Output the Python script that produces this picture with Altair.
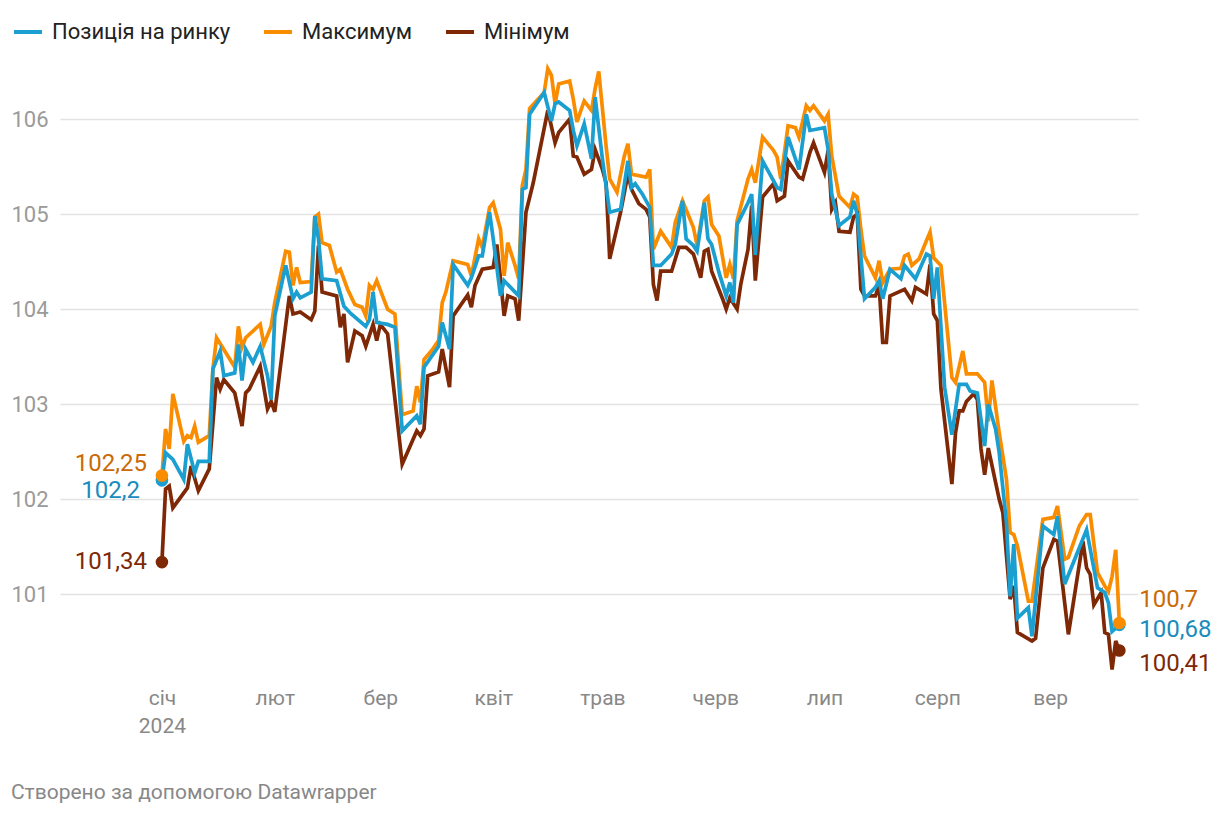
import json
import altair as alt
import pandas as pd

# ---------------- data ----------------
months = ["січ", "лют", "бер", "квіт", "трав", "черв", "лип", "серп", "вер"]
year_label = "2024"
series_names = ["Позиція на ринку", "Максимум", "Мінімум"]
series_colors = ["#1a9fd0", "#fa8c00", "#7e2806"]
label_colors = ["#1a8bbd", "#c96a06", "#7e2806"]
y_ticks = [101, 102, 103, 104, 105, 106]
footer = "Створено за допомогою Datawrapper"

# (days since 2024-01-01, value)
pos_points = [(0,102.20),(1,102.49),(3,102.42),(6,102.21),(7,102.58),(9,102.28),(10,102.40),(13,102.40),(14,103.37),(16,103.56),(17,103.30),(20,103.33),(21,103.63),(22,103.25),(23,103.58),(25,103.44),(27,103.61),(29,103.30),(30,103.05),(31,103.93),(34,104.46),(36,104.11),(37,104.18),(38,104.12),(41,104.18),(42,104.98),(43,104.74),(44,104.32),(48,104.30),(50,104.03),(52,103.95),(56,103.82),(57,103.89),(58,104.18),(59,103.86),(62,103.84),(64,103.81),(66,102.72),(70,102.88),(71,102.79),(72,103.39),(76,103.61),(77,103.86),(79,103.58),(80,104.47),(84,104.25),(85,104.33),(87,104.56),(88,104.56),(90,105.02),(91,104.74),(93,104.14),(94,104.30),(98,104.14),(99,105.26),(100,105.28),(101,106.05),(105,106.28),(107,105.98),(108,106.16),(109,106.18),(112,106.09),(113,105.88),(114,105.72),(116,105.95),(118,105.58),(119,106.23),(121,105.58),(123,105.02),(126,105.05),(128,105.56),(129,105.28),(130,105.32),(132,105.21),(134,105.07),(135,104.46),(137,104.46),(140,104.58),(141,104.68),(143,105.14),(144,104.74),(146,104.67),(147,104.61),(149,105.12),(150,104.74),(151,104.68),(153,104.39),(155,104.14),(156,104.28),(157,104.07),(158,104.89),(161,105.12),(162,105.21),(163,104.57),(165,105.56),(167,105.42),(169,105.28),(170,105.26),(172,105.81),(175,105.47),(177,106.05),(178,105.88),(182,105.91),(183,105.68),(184,105.21),(186,104.88),(189,104.97),(190,105.14),(191,105.00),(193,104.11),(196,104.23),(197,104.30),(198,104.11),(200,104.42),(203,104.32),(204,104.46),(207,104.32),(210,104.58),(211,104.56),(212,104.11),(213,104.44),(215,103.18),(217,102.68),(219,103.21),(221,103.21),(222,103.14),(224,103.12),(226,102.56),(227,103.00),(229,102.74),(230,102.49),(232,101.75),(233,100.98),(234,101.53),(235,100.75),(238,100.86),(239,100.56),(242,101.72),(245,101.63),(246,101.82),(248,101.11),(254,101.68),(257,101.07),(259,101.02),(260,100.91),(261,100.61),(263,100.68)]

max_points = [(0,102.25),(1,102.74),(2,102.53),(3,103.11),(6,102.61),(7,102.67),(8,102.65),(9,102.77),(10,102.60),(13,102.67),(14,103.37),(15,103.70),(20,103.39),(21,103.82),(22,103.60),(23,103.70),(27,103.84),(28,103.63),(30,103.82),(31,104.07),(34,104.61),(35,104.60),(36,104.25),(37,104.44),(38,104.28),(41,104.29),(42,104.97),(43,105.00),(44,104.70),(46,104.67),(48,104.39),(49,104.42),(51,104.21),(53,104.05),(55,104.02),(56,103.93),(57,104.25),(58,104.21),(59,104.30),(62,104.00),(64,103.95),(66,102.89),(69,102.93),(70,103.19),(71,103.02),(72,103.47),(74,103.56),(76,103.67),(77,104.07),(78,104.18),(80,104.51),(84,104.47),(85,104.35),(87,104.74),(88,104.65),(90,105.07),(91,105.12),(93,104.84),(94,104.35),(95,104.70),(97,104.46),(98,104.32),(99,105.30),(100,105.47),(101,106.11),(105,106.28),(106,106.53),(107,106.46),(108,106.16),(109,106.37),(112,106.40),(113,106.21),(114,105.97),(116,106.19),(118,106.09),(119,106.32),(120,106.50),(122,105.72),(123,105.37),(125,105.23),(127,105.61),(128,105.74),(129,105.42),(133,105.39),(134,105.47),(135,104.63),(137,104.82),(140,104.65),(141,104.91),(143,105.14),(146,104.86),(147,104.67),(149,105.14),(150,105.18),(151,104.89),(153,104.77),(155,104.33),(156,104.47),(157,104.32),(158,104.93),(161,105.37),(162,105.47),(163,105.33),(165,105.81),(168,105.67),(169,105.60),(170,105.37),(172,105.93),(174,105.91),(175,105.81),(177,106.14),(178,106.09),(179,106.14),(182,105.98),(183,106.05),(184,105.61),(186,105.19),(189,105.07),(190,105.21),(191,105.18),(192,104.84),(193,104.56),(196,104.33),(197,104.51),(198,104.28),(200,104.42),(203,104.43),(204,104.56),(205,104.58),(206,104.46),(208,104.53),(210,104.72),(211,104.81),(212,104.54),(214,104.46),(217,103.28),(218,103.23),(220,103.56),(221,103.32),(224,103.32),(226,103.23),(227,102.82),(228,103.25),(230,102.70),(232,102.21),(233,101.65),(234,101.63),(235,101.51),(238,100.93),(239,100.93),(242,101.79),(245,101.81),(246,101.93),(248,101.37),(249,101.39),(252,101.72),(254,101.84),(255,101.84),(257,101.23),(259,101.09),(260,101.03),(261,101.19),(262,101.47),(263,100.70)]

min_points = [(0,101.34),(1,102.11),(2,102.14),(3,101.91),(7,102.12),(8,102.35),(10,102.09),(13,102.32),(15,103.28),(16,103.16),(17,103.26),(20,103.12),(22,102.77),(23,103.12),(24,103.16),(27,103.40),(29,102.95),(30,103.03),(31,102.92),(35,104.14),(36,103.95),(38,103.97),(41,103.89),(42,103.98),(43,104.67),(44,104.18),(48,104.14),(49,103.81),(50,103.95),(51,103.44),(53,103.77),(55,103.72),(56,103.61),(58,103.84),(59,103.67),(60,103.84),(62,103.74),(66,102.37),(70,102.72),(71,102.67),(72,102.74),(73,103.30),(76,103.34),(77,103.58),(79,103.18),(80,103.93),(84,104.15),(85,104.02),(86,104.25),(88,104.42),(91,104.44),(92,104.68),(93,104.32),(94,103.93),(95,104.14),(97,104.11),(98,103.88),(100,105.02),(102,105.33),(106,106.09),(108,105.75),(109,105.86),(112,106.00),(113,105.61),(114,105.60),(116,105.42),(118,105.47),(119,105.68),(121,105.47),(122,105.33),(123,104.53),(126,105.02),(128,105.42),(129,105.26),(131,105.11),(133,105.05),(134,104.97),(135,104.26),(136,104.09),(137,104.40),(140,104.40),(142,104.65),(144,104.65),(146,104.58),(148,104.33),(149,104.61),(150,104.63),(151,104.40),(154,104.11),(155,104.00),(156,104.12),(158,104.00),(159,104.26),(161,104.63),(162,105.09),(163,104.30),(165,105.18),(168,105.32),(169,105.14),(171,105.19),(172,105.56),(175,105.39),(176,105.37),(178,105.65),(179,105.75),(182,105.44),(183,105.67),(184,105.05),(185,105.12),(186,104.82),(189,104.81),(190,104.97),(191,105.00),(192,104.21),(193,104.14),(196,104.14),(197,104.25),(198,103.65),(199,103.65),(200,104.14),(204,104.21),(206,104.09),(207,104.23),(210,104.16),(211,104.47),(212,103.95),(213,103.88),(214,103.16),(217,102.16),(218,102.70),(219,102.93),(220,102.93),(221,103.03),(223,103.11),(224,103.05),(225,102.53),(226,102.26),(227,102.54),(230,102.00),(231,101.86),(233,100.95),(234,101.09),(235,100.60),(239,100.51),(240,100.54),(242,101.28),(245,101.58),(246,101.56),(249,100.58),(253,101.56),(254,101.28),(255,101.21),(256,100.89),(258,101.02),(259,100.60),(260,100.58),(261,100.21),(262,100.51),(263,100.41)]

start_labels = ["102,2", "102,25", "101,34"]
end_labels = ["100,68", "100,7", "100,41"]

# ---------------- build tables ----------------
base = pd.Timestamp("2024-01-01")
FMT = "%Y-%m-%dT%H:%M:%S"


def to_df(points, name):
    return pd.DataFrame({
        "date": [(base + pd.Timedelta(days=d)).strftime(FMT) for d, _ in points],
        "value": [v for _, v in points],
        "series": name,
    })


all_points = [pos_points, max_points, min_points]
frames = [to_df(p, n) for p, n in zip(all_points, series_names)]

end_rows = []
for i, (p, n) in enumerate(zip(all_points, series_names)):
    end_rows.append({"date": (base + pd.Timedelta(days=p[0][0])).strftime(FMT), "value": p[0][1],
                     "series": n, "side": "start", "label": start_labels[i]})
    end_rows.append({"date": (base + pd.Timedelta(days=p[-1][0])).strftime(FMT), "value": p[-1][1],
                     "series": n, "side": "end", "label": end_labels[i]})
ends = pd.DataFrame(end_rows)

FONT = "Roboto"

color_scale = alt.Scale(domain=series_names, range=series_colors)

x_enc = alt.X(
    "date:T",
    scale=alt.Scale(domain=[alt.DateTime(year=2023, month=12, date=4),
                            alt.DateTime(year=2024, month=9, date=25, hours=3)]),
    axis=alt.Axis(
        values=[alt.DateTime(year=2024, month=m, date=1) for m in range(1, 10)],
        labelExpr=(f"month(datum.value) == 0 ? ['{months[0]}', '{year_label}'] : "
                   f"{json.dumps(months, ensure_ascii=False)}[month(datum.value)]"),
        title=None, grid=False, ticks=False, domain=False,
        labelFont=FONT, labelFontSize=21, labelColor="#888888",
        labelPadding=7, labelLineHeight=28, labelBaseline="top",
        labelAngle=0,
    ),
)
y_enc = alt.Y(
    "value:Q",
    scale=alt.Scale(domain=[100.1, 106.6], nice=False, zero=False),
    axis=alt.Axis(
        values=y_ticks, format="d", title=None, domain=False, ticks=False,
        gridColor="#e2e2e2", gridWidth=1.5,
        labelFont=FONT, labelFontSize=22, labelColor="#9a9a9a", labelPadding=12,
    ),
)

legend = alt.Legend(
    orient="none", legendX=-48, legendY=-46, direction="horizontal", title=None,
    symbolType="stroke", symbolStrokeWidth=4, symbolSize=784,
    labelFont=FONT, labelFontSize=22, labelColor="#222222", labelLimit=400,
    columnPadding=25, labelOffset=8, gridAlign="none",
)

layers = []
for name in [series_names[1], series_names[2], series_names[0]]:
    layers.append(
        alt.Chart(frames[series_names.index(name)]).mark_line(strokeWidth=3.7).encode(
            x=x_enc, y=y_enc,
            color=alt.Color("series:N", scale=color_scale, legend=legend),
        )
    )

points = alt.Chart(ends).mark_circle(size=160, opacity=1).encode(
    x="date:T", y="value:Q",
    color=alt.Color("series:N", scale=color_scale, legend=None),
)
layers.append(points)

label_offsets = {
    ("Максимум", "start"): (-15, -12),
    ("Позиція на ринку", "start"): (-22, 11),
    ("Мінімум", "start"): (-15, 0),
    ("Максимум", "end"): (20, -23),
    ("Позиція на ринку", "end"): (20, 5),
    ("Мінімум", "end"): (20, 13),
}
for (name, side), (dx, dy) in label_offsets.items():
    i = series_names.index(name)
    layers.append(
        alt.Chart(ends).transform_filter(
            (alt.datum.series == name) & (alt.datum.side == side)
        ).mark_text(
            font=FONT, fontSize=24, color=label_colors[i],
            align="right" if side == "start" else "left", baseline="middle",
            dx=dx, dy=dy,
        ).encode(x="date:T", y="value:Q", text="label:N")
    )

chart = alt.layer(*layers).properties(
    width=1078, height=618,
    padding={"left": 52, "top": 54, "right": 73, "bottom": 124},
    autosize=alt.AutoSizeParams(type="none"),
    title=alt.TitleParams(
        footer, orient="bottom", anchor="start", dx=0, offset=46,
        fontSize=21, color="#888888", font=FONT, fontWeight="normal",
    ),
).configure_view(stroke=None)

chart.save("out.html", embed_options={"renderer": "svg", "actions": False})
